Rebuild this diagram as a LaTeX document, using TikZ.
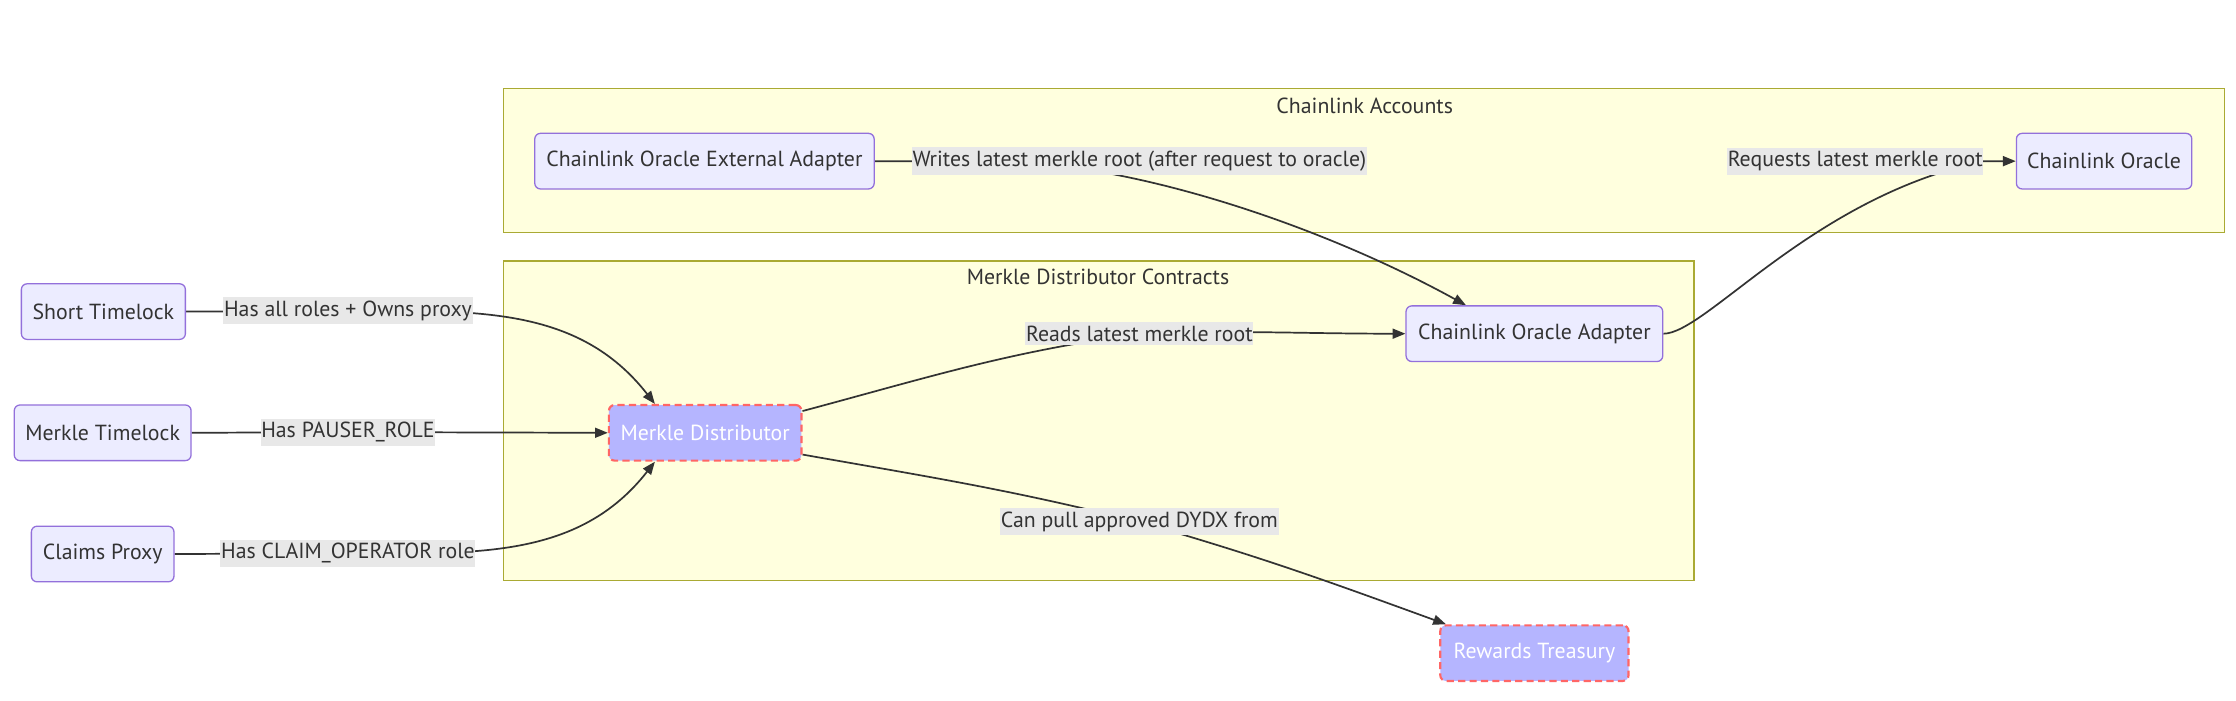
\documentclass[tikz,border=0pt]{standalone}
\usepackage{fontspec}
\setmainfont{PT Sans}
\usetikzlibrary{arrows.meta}
\definecolor{nodefill}{HTML}{ECECFF}
\definecolor{nodeline}{HTML}{9370DB}
\definecolor{clfill}{HTML}{FFFFDE}
\definecolor{clline}{HTML}{AAAA33}
\definecolor{hifill}{HTML}{B5B5FF}
\definecolor{hiline}{HTML}{FF6666}
\definecolor{lblfill}{HTML}{E8E8E8}
\definecolor{edgecol}{HTML}{333333}
\definecolor{txt}{HTML}{333333}
\pgfdeclarelayer{background}
\pgfdeclarelayer{clusters}
\pgfdeclarelayer{edges}
\pgfsetlayers{background,clusters,edges,main}
\tikzset{
  basefont/.style={font=\fontsize{15.3}{18}\selectfont},
  box/.style={basefont, draw=nodeline, fill=nodefill, rounded corners=4pt, line width=0.9pt,
    minimum height=39pt, inner xsep=0pt, text=txt},
  hibox/.style={box, draw=hiline, fill=hifill, text=white, line width=1.5pt, dash pattern=on 5pt off 3pt},
  cluster/.style={draw=clline, fill=clfill, line width=0.9pt},
  cltitle/.style={basefont, text=txt, inner sep=0pt},
  lbl/.style={basefont, fill=lblfill, text=txt, inner xsep=0.5pt, inner ysep=2.5pt},
  edgeline/.style={draw=edgecol, line width=1.2pt},
  arr/.style={edgeline, -{Triangle[length=9pt,width=7pt]}}
}
\begin{document}
\begin{tikzpicture}[x=1pt,y=-1pt]
\begin{pgfonlayer}{background}
\fill[white] (0,0) rectangle (1568,491);
\end{pgfonlayer}
\useasboundingbox (0,0) rectangle (1568,491);
% clusters
\begin{pgfonlayer}{clusters}
\draw[cluster] (353,62) rectangle (1560,163);
\draw[cluster] (353,183) rectangle (1188,407);
\end{pgfonlayer}
\node[cltitle] (t1) at (957,74) {Chainlink Accounts};
\node[cltitle] (t2) at (770,194) {Merkle Distributor Contracts};
% nodes
\node[box, minimum width=238pt] (ext) at (494,113) {Chainlink Oracle External Adapter};
\node[box, minimum width=123pt] (orc) at (1475.5,113) {Chainlink Oracle};
\node[box, minimum width=115pt] (st) at (72.5,218.5) {Short Timelock};
\node[box, minimum width=124pt] (mt) at (72,303.5) {Merkle Timelock};
\node[box, minimum width=100pt] (cp) at (72,388.5) {Claims Proxy};
\node[hibox, minimum width=135pt] (md) at (494.5,303.5) {Merkle Distributor};
\node[box, minimum width=180pt] (ca) at (1076,234) {Chainlink Oracle Adapter};
\node[hibox, minimum width=132pt] (rt) at (1076,458) {Rewards Treasury};
% edge labels
\node[lbl] (l1) at (244,218) {Has all roles + Owns proxy};
\node[lbl] (l2) at (244,303) {Has PAUSER\_ROLE};
\node[lbl] (l3) at (244,388) {Has CLAIM\_OPERATOR role};
\node[lbl] (l4) at (799,234) {Reads latest merkle root};
\node[lbl] (l5) at (799,113) {Writes latest merkle root (after request to oracle)};
\node[lbl] (l6) at (1301,113) {Requests latest merkle root};
\node[lbl] (l7) at (799,366) {Can pull approved DYDX from};
% edges
\begin{pgfonlayer}{edges}
\draw[arr] (st.east) -- (l1.center) to[out=0,in=128] ([xshift=33pt]md.north west);
\draw[arr] (mt.east) -- (l2.center) -- (md.west);
\draw[arr] (cp.east) -- (l3.center) to[out=0,in=-128] ([xshift=33pt]md.south west);
\draw[arr] ([yshift=-5pt]md.north east) to[out=15,in=188] (l4.center) to[out=2,in=180] (ca.west);
\draw[arr] (ext.east) -- ([xshift=-99pt]l5.center) .. controls +(100,2) and +(-98,-54) .. ([xshift=-48pt]ca.north);
\draw[arr] (ca.east) .. controls +(30,0) and +(-120,25) .. (l6.east) -- (orc.west);
\draw[arr] ([yshift=5pt]md.south east) to[out=-10,in=166] (l7.center) to[out=-16,in=160] ([xshift=-62pt]rt.north);
\end{pgfonlayer}
\end{tikzpicture}
\end{document}
